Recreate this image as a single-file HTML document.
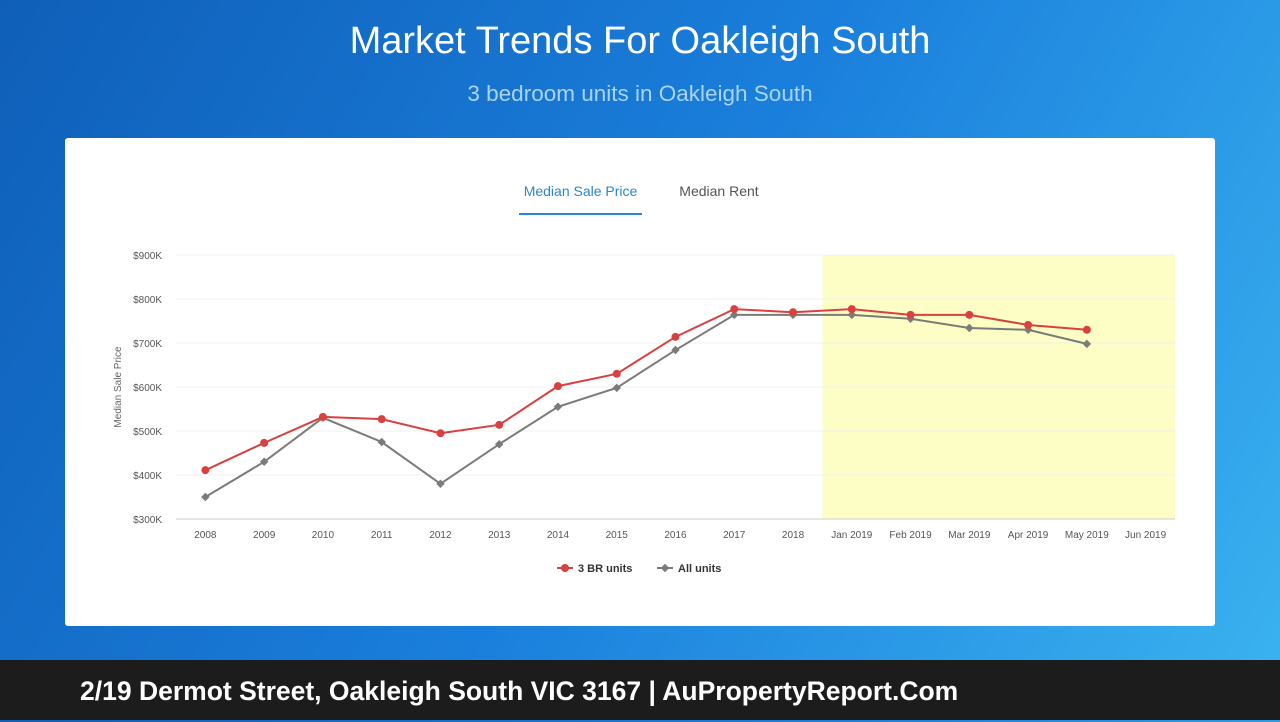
<!DOCTYPE html>
<html><head><meta charset="utf-8"><style>
body{margin:0;width:1280px;height:720px;overflow:hidden;font-family:"Liberation Sans",sans-serif;background:linear-gradient(120deg,#0f5fb8 0%,#1a7fdc 50%,#3bb3f0 100%);position:relative}
.t{position:absolute;left:0;width:1280px;text-align:center;color:#fff}
.card{position:absolute;left:65px;top:138px;width:1150px;height:488px;background:#fff;border-radius:3px}
.foot{position:absolute;left:0;top:660px;width:1280px;height:60px;background:#1c1c1c;color:#fff;font-weight:bold;font-size:26.5px;line-height:62px;padding-left:80px;box-sizing:border-box}
</style></head><body>
<div class="t" style="top:20px;font-size:38px">Market Trends For Oakleigh South</div>
<div class="t" style="top:81px;font-size:22.5px;color:#a9d4f5">3 bedroom units in Oakleigh South</div>
<div class="card">
<div style="position:absolute;left:454px;top:45px;width:123px;text-align:center;font-size:14px;color:#2a86d0;padding-bottom:14px;border-bottom:2px solid #2a86d0">Median Sale Price</div>
<div style="position:absolute;left:604px;top:45px;width:100px;text-align:center;font-size:14px;color:#555">Median Rent</div>
</div>
<svg id="ch" width="1280" height="720" style="position:absolute;left:0;top:0"></svg>
<div class="foot">2/19 Dermot Street, Oakleigh South VIC 3167 | AuPropertyReport.Com</div>
<script>
const categories=["2008","2009","2010","2011","2012","2013","2014","2015","2016","2017","2018","Jan 2019","Feb 2019","Mar 2019","Apr 2019","May 2019","Jun 2019"];
const br3Values=[411,473,532,527,495,514,602,630,714,777,770,777,764,764,741,730,null];
const allValues=[350,430,530,475,380,470,555,598,684,764,764,764,755,734,730,698,null];
const yTicks=[300,400,500,600,700,800,900];
const yTickLabels=["$300K","$400K","$500K","$600K","$700K","$800K","$900K"];
const highlightStart=11;
const X0=176,X1=1175,Y0=519,Y1=255,bw=(X1-X0)/categories.length;
const x=i=>X0+bw*(i+0.5);
const y=v=>Y0-(v-300)/600*(Y0-Y1);
const svg=document.getElementById('ch');const NS="http://www.w3.org/2000/svg";
function mk(t,a,p){const e=document.createElementNS(NS,t);for(const k in a)e.setAttribute(k,a[k]);(p||svg).appendChild(e);return e;}
let hb=mk('rect',{x:X0+bw*highlightStart,y:Y1,width:X1-(X0+bw*highlightStart),height:Y0-Y1,fill:'#fdfdc6'});


yTicks.forEach((v,i)=>{
 let g=mk('line',{x1:X0,x2:X1,y1:y(v),y2:y(v),stroke:i==0?'#ccc':'#f0f0f0','stroke-width':1});
 
 
 let t=mk('text',{x:162,y:y(v)+4,'text-anchor':'end','font-size':10,fill:'#555'});t.textContent=yTickLabels[i];
 
 
});
categories.forEach((c,i)=>{
 let t=mk('text',{x:x(i),y:538,'text-anchor':'middle','font-size':10,fill:'#555'});t.textContent=c;
 
 
});
let yt=mk('text',{x:121,y:387,'text-anchor':'middle','font-size':10,fill:'#666',transform:'rotate(-90 121 387)'});yt.textContent='Median Sale Price';


function series(vals,col,diamond,name){
 const pts=vals.map((v,i)=>v==null?null:[x(i),y(v)]).filter(p=>p);
 let l=mk('polyline',{points:pts.map(p=>p.join(',')).join(' '),fill:'none',stroke:col,'stroke-width':2});
 
 
 pts.forEach(p=>{
  let m=diamond?mk('rect',{x:p[0]-3,y:p[1]-3,width:6,height:6,fill:col,transform:`rotate(45 ${p[0]} ${p[1]})`}):mk('circle',{cx:p[0],cy:p[1],r:4,fill:col});
  
  
 });
}
series(allValues,'#7b7b78',true,'all-units');
series(br3Values,'#d94040',false,'br3-units');
let l1=mk('line',{x1:557,x2:573,y1:568,y2:568,stroke:'#d94040','stroke-width':2});mk('circle',{cx:565,cy:568,r:4,fill:'#d94040'});


let t1=mk('text',{x:578,y:572,'font-size':11,'font-weight':'bold',fill:'#333'});t1.textContent='3 BR units';


let l2=mk('line',{x1:657,x2:673,y1:568,y2:568,stroke:'#7b7b78','stroke-width':2});mk('rect',{x:662,y:565,width:6,height:6,fill:'#7b7b78',transform:'rotate(45 665 568)'});


let t2=mk('text',{x:678,y:572,'font-size':11,'font-weight':'bold',fill:'#333'});t2.textContent='All units';


</script>
</body></html>
